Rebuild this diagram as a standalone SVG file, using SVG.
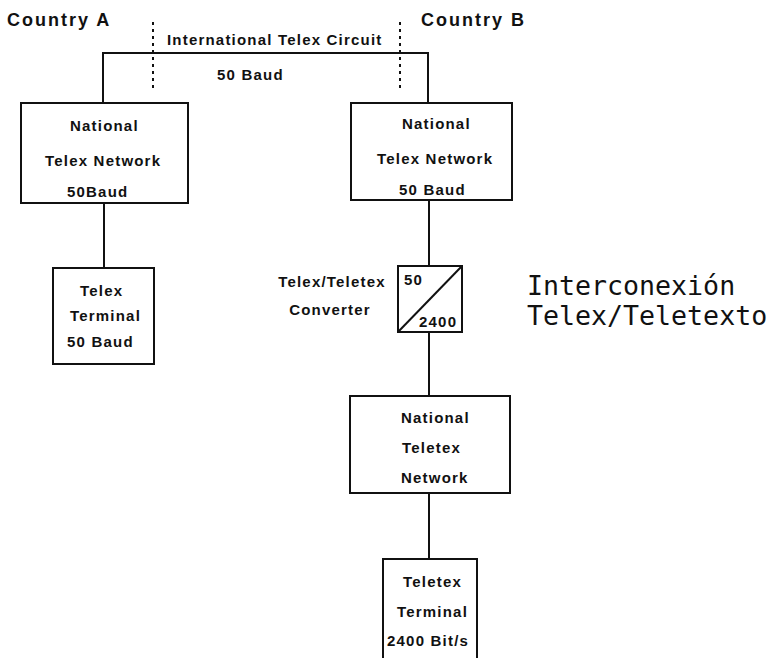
<svg xmlns="http://www.w3.org/2000/svg" width="773" height="658" viewBox="0 0 773 658">
  <style>
    .box { fill: #fff; stroke: #111; stroke-width: 2; }
    .wire { fill: none; stroke: #111; stroke-width: 2; }
    .border { fill: none; stroke: #111; stroke-width: 2; stroke-dasharray: 3 4; }
    .lbl { font-family: "Liberation Sans", Arial, sans-serif; font-weight: bold; font-size: 15px; letter-spacing: 1.2px; fill: #111; }
    .big { font-size: 18px; letter-spacing: 2px; }
    .note { font-family: "DejaVu Sans Mono", "Liberation Mono", monospace; font-size: 26.6px; fill: #111; }
  </style>
  <rect width="773" height="658" fill="#fff"/>

  <!-- connectors -->
  <g id="connectors">
    <path class="wire" d="M103,103 V53 H428 V103"/>
    <line class="border" x1="153" y1="22" x2="153" y2="88"/>
    <line class="border" x1="400" y1="22" x2="400" y2="88"/>
    <line class="wire" x1="104" y1="203" x2="104" y2="268"/>
    <line class="wire" x1="429" y1="200" x2="429" y2="266"/>
    <line class="wire" x1="429" y1="332" x2="429" y2="396"/>
    <line class="wire" x1="429" y1="493" x2="429" y2="559"/>
  </g>

  <!-- headings -->
  <g id="headings">
    <text class="lbl big" x="7" y="26">Country A</text>
    <text class="lbl big" x="421" y="26">Country B</text>
    <text class="lbl" x="167" y="45">International Telex Circuit</text>
    <text class="lbl" x="217" y="80">50 Baud</text>
  </g>

  <g id="net-a">
    <rect class="box" x="21" y="103" width="167" height="100"/>
    <text class="lbl" x="70" y="131">National</text>
    <text class="lbl" x="45" y="166">Telex Network</text>
    <text class="lbl" x="67" y="197">50Baud</text>
  </g>

  <g id="term-a">
    <rect class="box" x="53" y="268" width="101" height="96"/>
    <text class="lbl" x="80" y="296">Telex</text>
    <text class="lbl" x="70" y="321">Terminal</text>
    <text class="lbl" x="67" y="347">50 Baud</text>
  </g>

  <g id="net-b">
    <rect class="box" x="351" y="103" width="161" height="97"/>
    <text class="lbl" x="402" y="129">National</text>
    <text class="lbl" x="377" y="164">Telex Network</text>
    <text class="lbl" x="399" y="195">50 Baud</text>
  </g>

  <g id="converter">
    <rect class="box" x="398" y="266" width="64" height="66"/>
    <line class="wire" x1="398" y1="332" x2="462" y2="266"/>
    <text class="lbl" x="404" y="285">50</text>
    <text class="lbl" x="419" y="327">2400</text>
    <text class="lbl" x="332" y="287" text-anchor="middle">Telex/Teletex</text>
    <text class="lbl" x="330" y="315" text-anchor="middle">Converter</text>
  </g>

  <g id="teletex-net">
    <rect class="box" x="350" y="396" width="160" height="97"/>
    <text class="lbl" x="401" y="423">National</text>
    <text class="lbl" x="402" y="453">Teletex</text>
    <text class="lbl" x="401" y="483">Network</text>
  </g>

  <g id="teletex-term">
    <rect class="box" x="383" y="559" width="94" height="104"/>
    <text class="lbl" x="403" y="587">Teletex</text>
    <text class="lbl" x="397" y="617">Terminal</text>
    <text class="lbl" x="387" y="646">2400 Bit/s</text>
  </g>

  <g id="caption">
    <text class="note" x="527" y="295">Interconexión</text>
    <text class="note" x="527" y="325">Telex/Teletexto</text>
  </g>
</svg>
